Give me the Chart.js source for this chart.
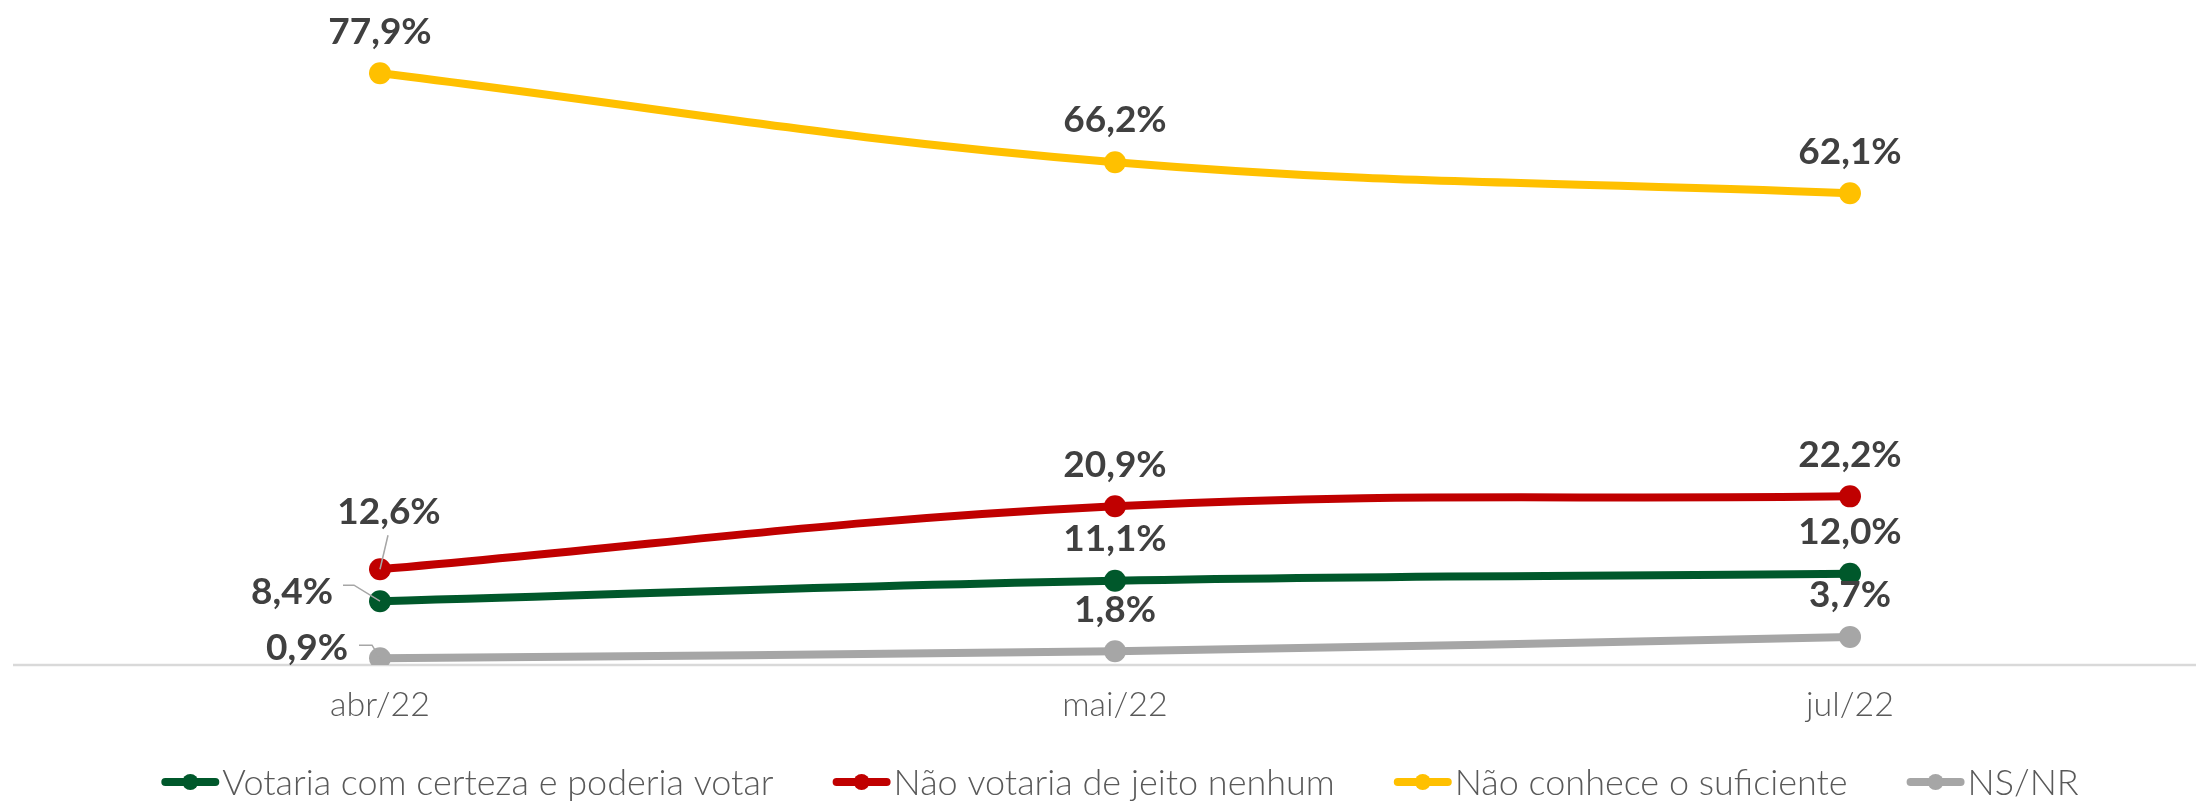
<!DOCTYPE html>
<html lang="pt-BR">
<head>
<meta charset="utf-8">
<title>Intenção de voto</title>
<script src="https://cdn.jsdelivr.net/npm/chart.js@4.4.0/dist/chart.umd.min.js"></script>
<style>
  html, body { margin: 0; padding: 0; background: #ffffff; }
  #wrap { width: 2196px; height: 801px; position: relative; }
  canvas { display: block; }
</style>
</head>
<body>
<div id="wrap"><canvas id="chart" width="2196" height="801"></canvas></div>
<script>
// Survey waves
const categories = ['abr/22', 'mai/22', 'jul/22'];

// Series values (%)
const votariaCerteza = [8.4, 11.1, 12.0];
const naoVotaria = [12.6, 20.9, 22.2];
const naoConhece = [77.9, 66.2, 62.1];
const nsNr = [0.9, 1.8, 3.7];

const seriesNames = [
  'Votaria com certeza e poderia votar',
  'Não votaria de jeito nenhum',
  'Não conhece o suficiente',
  'NS/NR'
];

// Styling
const COLORS = ['#00582B', '#C00000', '#FFC000', '#A6A6A6'];
const LABEL_COLOR = '#404040';
const TEXT_COLOR = '#595959';
const AXIS_COLOR = '#D9D9D9';
const LEADER_COLOR = '#A6A6A6';
const FONT = 'Lato, "Open Sans", "DejaVu Sans", sans-serif';

// Value label placement: default is centred above the point; a few labels
// are pushed aside and joined to their point by a thin leader line.
const LABEL_ABOVE = 43;
const labelPlacement = {
  '1-0': { dx: 9, dy: -59, leader: [[0, 0], [8, -34]] },
  '0-0': { dx: -88, dy: -11, leader: [[0, 0], [-26, -16], [-37, -16]] },
  '3-0': { dx: -73, dy: -11, leader: [[0, 0], [-8, -13], [-21, -13]] }
};

const fmt = v => v.toFixed(1).replace('.', ',') + '%';

// Light grey category baseline running across the full width
const baselinePlugin = {
  id: 'baseline',
  beforeDatasetsDraw(chart) {
    const ctx = chart.ctx;
    const y = chart.scales.y.getPixelForValue(0);
    ctx.save();
    ctx.strokeStyle = AXIS_COLOR;
    ctx.lineWidth = 2.5;
    ctx.beginPath();
    ctx.moveTo(13, y);
    ctx.lineTo(chart.width, y);
    ctx.stroke();
    ctx.restore();
  }
};

// Bold percentage labels on every point
const valueLabelPlugin = {
  id: 'valueLabels',
  afterDatasetsDraw(chart) {
    const ctx = chart.ctx;
    const size = 37;
    ctx.save();
    ctx.font = `700 ${size}px ${FONT}`;
    ctx.textAlign = 'center';
    ctx.textBaseline = 'alphabetic';
    chart.data.datasets.forEach((ds, di) => {
      const meta = chart.getDatasetMeta(di);
      meta.data.forEach((pt, i) => {
        const place = labelPlacement[di + '-' + i];
        let cx = pt.x, cy = pt.y - LABEL_ABOVE;
        if (place) {
          cx = pt.x + place.dx;
          cy = pt.y + place.dy;
          ctx.strokeStyle = LEADER_COLOR;
          ctx.lineWidth = 1.5;
          ctx.beginPath();
          place.leader.forEach(([lx, ly], k) => {
            if (k === 0) ctx.moveTo(pt.x + lx, pt.y + ly);
            else ctx.lineTo(pt.x + lx, pt.y + ly);
          });
          ctx.stroke();
        }
        ctx.fillStyle = LABEL_COLOR;
        ctx.fillText(fmt(ds.data[i]), cx, cy + size * 0.36);
      });
    });
    ctx.restore();
  }
};

// Legend row: line-and-dot marker followed by the series name
const legendPlugin = {
  id: 'lineLegend',
  afterDraw(chart) {
    const ctx = chart.ctx;
    const size = 36;
    const markW = 58, markGap = 3, itemGap = 59, centerX = 1120, cy = 782;
    ctx.save();
    ctx.font = `300 ${size}px ${FONT}`;
    const widths = chart.data.datasets.map(ds => ctx.measureText(ds.label).width);
    const total = widths.reduce((a, w) => a + markW + markGap + w, 0) + itemGap * (widths.length - 1);
    let x = centerX - total / 2;
    chart.data.datasets.forEach((ds, i) => {
      ctx.strokeStyle = ds.borderColor;
      ctx.lineWidth = 8;
      ctx.lineCap = 'round';
      ctx.beginPath();
      ctx.moveTo(x + 4, cy);
      ctx.lineTo(x + markW - 4, cy);
      ctx.stroke();
      ctx.fillStyle = ds.borderColor;
      ctx.beginPath();
      ctx.arc(x + markW / 2, cy, 8, 0, Math.PI * 2);
      ctx.fill();
      ctx.fillStyle = TEXT_COLOR;
      ctx.textAlign = 'left';
      ctx.textBaseline = 'alphabetic';
      ctx.fillText(ds.label, x + markW + markGap, cy + size * 0.36);
      x += markW + markGap + widths[i] + itemGap;
    });
    ctx.restore();
  }
};

const makeSet = (label, data, color) => ({
  label,
  data,
  borderColor: color,
  backgroundColor: color,
  pointBackgroundColor: color,
  pointBorderColor: color,
  borderWidth: 8,
  pointRadius: 11,
  pointHoverRadius: 11,
  pointBorderWidth: 0,
  tension: 0.4,
  fill: false
});

new Chart(document.getElementById('chart'), {
  type: 'line',
  data: {
    labels: categories,
    datasets: [
      makeSet(seriesNames[0], votariaCerteza, COLORS[0]),
      makeSet(seriesNames[1], naoVotaria, COLORS[1]),
      makeSet(seriesNames[2], naoConhece, COLORS[2]),
      makeSet(seriesNames[3], nsNr, COLORS[3])
    ]
  },
  options: {
    responsive: false,
    animation: false,
    devicePixelRatio: 1,
    layout: { padding: { left: 380, right: 346, top: 0, bottom: 74 } },
    plugins: {
      legend: { display: false },
      tooltip: { enabled: false }
    },
    scales: {
      x: {
        type: 'category',
        offset: false,
        grid: { display: false, drawTicks: false },
        border: { display: false },
        ticks: {
          color: TEXT_COLOR,
          font: { family: FONT, size: 34, weight: 300 },
          padding: 20,
          maxRotation: 0
        },
        afterFit(scale) { scale.height = 62; }
      },
      y: {
        display: false,
        min: 0,
        max: 86.1
      }
    }
  },
  plugins: [baselinePlugin, valueLabelPlugin, legendPlugin]
});
</script>
</body>
</html>
